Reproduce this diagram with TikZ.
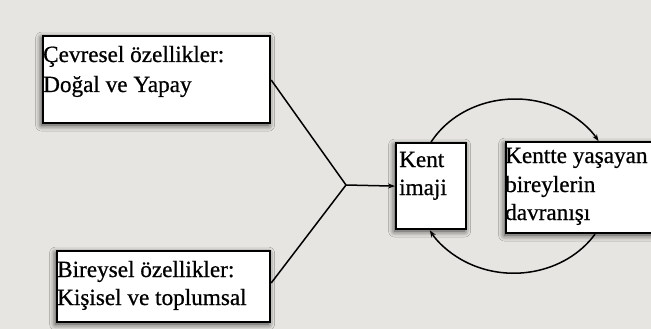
\documentclass[tikz,border=0pt]{standalone}
\usepackage{fontspec}
\setmainfont{Liberation Serif}
\usetikzlibrary{arrows.meta,shadows.blur}
\definecolor{paper}{RGB}{231,229,225}
\begin{document}
\begin{tikzpicture}[x=1pt,y=-1pt,
  box/.style={draw=black,line width=2.2pt,fill=white,rectangle,inner sep=0pt,
    anchor=north west,
    blur shadow={shadow xshift=-1.5pt,shadow yshift=-2pt,shadow blur radius=6pt,shadow opacity=80}},
  txt/.style={anchor=base west,inner sep=0pt,
    font=\fontsize{23.2}{28.5}\selectfont\addfontfeature{FakeBold=0.7}},
  link/.style={line width=1.5pt,black},
  tip/.style={-{Stealth[length=7pt,width=5pt]}}]
\useasboundingbox (0,0) rectangle (651,329);
\clip (0,0) rectangle (651,329);
\fill[paper] (0,0) rectangle (651,329);

% boxes
\node[box,minimum width=227pt,minimum height=87pt] (env) at (42,35) {};
\node[box,minimum width=213pt,minimum height=71pt] (ind) at (56,250) {};
\node[box,minimum width=70pt,minimum height=86pt] (kent) at (395,142) {};
\node[box,minimum width=180pt,minimum height=91pt] (beh) at (505,141) {};

% box texts
\node[txt] (env1) at (43,62) {Çevresel özellikler:};
\node[txt] (env2) at (43,92) {Doğal ve Yapay};
\node[txt] (ind1) at (57,277) {Bireysel özellikler:};
\node[txt] (ind2) at (57,305) {Kişisel ve toplumsal};
\node[txt] (kent1) at (399,167) {Kent};
\node[txt] (kent2) at (399,195) {imaji};
\node[txt] (beh1) at (505,163) {Kentte yaşayan};
\node[txt] (beh2) at (505,192) {bireylerin};
\node[txt] (beh3) at (505,220) {davranışı};

% the two inputs merge and lead to the city image
\coordinate (j) at (346,185);
\draw[link] (env.north east) ++(0,45) -- (j);
\draw[link] (ind.north east) ++(0,33) -- (j);
\draw[link,tip] (j) -- (kent.west);

% feedback loop between image and behaviour
\draw[link,tip] (kent.north) arc[start angle=150,end angle=30.6,x radius=97pt,y radius=86pt];
\draw[link,tip] (beh.south west) ++(90,0) arc[start angle=-33.1,end angle=-150,x radius=97pt,y radius=86pt];
\end{tikzpicture}
\end{document}
